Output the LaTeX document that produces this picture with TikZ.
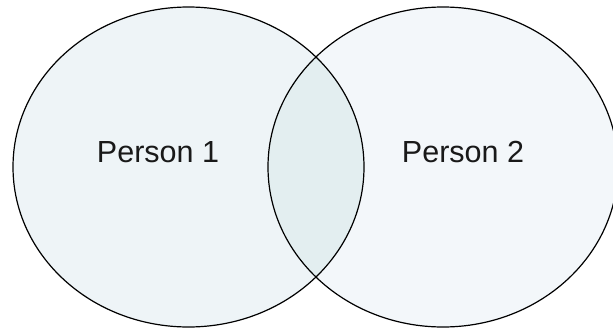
\documentclass[tikz,border=0pt]{standalone}
\usepackage{fontspec}
\setmainfont{Liberation Sans}
\definecolor{leftfill}{HTML}{EEF4F7}
\definecolor{rightfill}{HTML}{F3F7FA}
\definecolor{bothfill}{HTML}{E3EEF0}
\tikzset{
  setline/.style={draw=black, line width=1.2pt},
  label/.style={font=\fontsize{30.5}{36}\selectfont, inner sep=0pt, anchor=base, text=black!90}
}
\begin{document}
\begin{tikzpicture}[x=1pt,y=-1pt]
\useasboundingbox (0,0) rectangle (613,332);
\clip (0,0) rectangle (613,332);
\coordinate (c1) at (188.5,167);
\coordinate (c2) at (443,167);
\fill[leftfill] (c1) ellipse [x radius=175.5, y radius=160];
\fill[rightfill] (c2) ellipse [x radius=175, y radius=160];
\begin{scope}
\clip (c1) ellipse [x radius=175.5, y radius=160];
\fill[bothfill] (c2) ellipse [x radius=175, y radius=160];
\end{scope}
\draw[setline] (c1) ellipse [x radius=175.5, y radius=160];
\draw[setline] (c2) ellipse [x radius=175, y radius=160];
\node[label] (p1) at (158,162) {Person 1};
\node[label] (p2) at (463,162) {Person 2};
\end{tikzpicture}
\end{document}
